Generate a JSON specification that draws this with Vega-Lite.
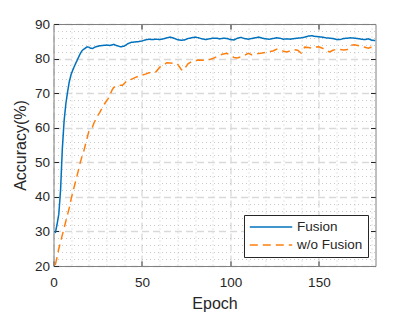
{
  "$schema": "https://vega.github.io/schema/vega-lite/v6.json",
  "width": 322,
  "height": 242,
  "autosize": {"type": "none"},
  "padding": {"left": 53.5, "top": 24, "right": 39.5, "bottom": 46},
  "background": "white",
  "config": {
    "font": "Liberation Sans",
    "view": {"stroke": null},
    "legend": {
      "orient": "none",
      "legendX": 190.5,
      "legendY": 191,
      "strokeColor": "#262626",
      "fillColor": "white",
      "padding": 5,
      "symbolType": "stroke",
      "symbolSize": 1800,
      "symbolStrokeWidth": 1.5,
      "clipHeight": 14,
      "labelFontSize": 13.5,
      "labelColor": "#262626",
      "labelOffset": 4,
      "rowPadding": 4,
      "symbolLimit": 10
    }
  },
  "data": {
    "values": [
      {"epoch": 1, "acc": 29.5, "series": "Fusion"},
      {"epoch": 2, "acc": 32, "series": "Fusion"},
      {"epoch": 3, "acc": 35, "series": "Fusion"},
      {"epoch": 4, "acc": 42, "series": "Fusion"},
      {"epoch": 5, "acc": 54, "series": "Fusion"},
      {"epoch": 6, "acc": 62, "series": "Fusion"},
      {"epoch": 7, "acc": 67, "series": "Fusion"},
      {"epoch": 8, "acc": 70.5, "series": "Fusion"},
      {"epoch": 9, "acc": 73.5, "series": "Fusion"},
      {"epoch": 10, "acc": 75.5, "series": "Fusion"},
      {"epoch": 11, "acc": 76.8, "series": "Fusion"},
      {"epoch": 12, "acc": 78, "series": "Fusion"},
      {"epoch": 13, "acc": 79.1, "series": "Fusion"},
      {"epoch": 14, "acc": 80.2, "series": "Fusion"},
      {"epoch": 15, "acc": 81.3, "series": "Fusion"},
      {"epoch": 16, "acc": 82.2, "series": "Fusion"},
      {"epoch": 17, "acc": 82.7, "series": "Fusion"},
      {"epoch": 18, "acc": 83, "series": "Fusion"},
      {"epoch": 19, "acc": 83.4, "series": "Fusion"},
      {"epoch": 20, "acc": 83.3, "series": "Fusion"},
      {"epoch": 21, "acc": 83, "series": "Fusion"},
      {"epoch": 22, "acc": 82.9, "series": "Fusion"},
      {"epoch": 23, "acc": 83.2, "series": "Fusion"},
      {"epoch": 24, "acc": 83.4, "series": "Fusion"},
      {"epoch": 26, "acc": 83.7, "series": "Fusion"},
      {"epoch": 28, "acc": 83.8, "series": "Fusion"},
      {"epoch": 30, "acc": 83.9, "series": "Fusion"},
      {"epoch": 32, "acc": 83.8, "series": "Fusion"},
      {"epoch": 34, "acc": 84.1, "series": "Fusion"},
      {"epoch": 36, "acc": 83.7, "series": "Fusion"},
      {"epoch": 38, "acc": 83.4, "series": "Fusion"},
      {"epoch": 40, "acc": 83.6, "series": "Fusion"},
      {"epoch": 42, "acc": 84.3, "series": "Fusion"},
      {"epoch": 44, "acc": 84.7, "series": "Fusion"},
      {"epoch": 46, "acc": 84.8, "series": "Fusion"},
      {"epoch": 48, "acc": 84.9, "series": "Fusion"},
      {"epoch": 50, "acc": 85.1, "series": "Fusion"},
      {"epoch": 52, "acc": 85.4, "series": "Fusion"},
      {"epoch": 54, "acc": 85.6, "series": "Fusion"},
      {"epoch": 56, "acc": 85.5, "series": "Fusion"},
      {"epoch": 58, "acc": 85.6, "series": "Fusion"},
      {"epoch": 60, "acc": 85.5, "series": "Fusion"},
      {"epoch": 62, "acc": 85.7, "series": "Fusion"},
      {"epoch": 64, "acc": 86, "series": "Fusion"},
      {"epoch": 66, "acc": 86.2, "series": "Fusion"},
      {"epoch": 68, "acc": 85.9, "series": "Fusion"},
      {"epoch": 70, "acc": 85.5, "series": "Fusion"},
      {"epoch": 72, "acc": 85.3, "series": "Fusion"},
      {"epoch": 74, "acc": 85.4, "series": "Fusion"},
      {"epoch": 76, "acc": 85.8, "series": "Fusion"},
      {"epoch": 78, "acc": 86, "series": "Fusion"},
      {"epoch": 80, "acc": 86.2, "series": "Fusion"},
      {"epoch": 82, "acc": 86, "series": "Fusion"},
      {"epoch": 84, "acc": 85.7, "series": "Fusion"},
      {"epoch": 86, "acc": 85.5, "series": "Fusion"},
      {"epoch": 88, "acc": 85.7, "series": "Fusion"},
      {"epoch": 90, "acc": 85.9, "series": "Fusion"},
      {"epoch": 92, "acc": 85.9, "series": "Fusion"},
      {"epoch": 94, "acc": 85.7, "series": "Fusion"},
      {"epoch": 96, "acc": 85.9, "series": "Fusion"},
      {"epoch": 98, "acc": 85.8, "series": "Fusion"},
      {"epoch": 100, "acc": 85.5, "series": "Fusion"},
      {"epoch": 102, "acc": 85.4, "series": "Fusion"},
      {"epoch": 104, "acc": 85.9, "series": "Fusion"},
      {"epoch": 106, "acc": 86.1, "series": "Fusion"},
      {"epoch": 108, "acc": 85.8, "series": "Fusion"},
      {"epoch": 110, "acc": 85.6, "series": "Fusion"},
      {"epoch": 112, "acc": 85.8, "series": "Fusion"},
      {"epoch": 114, "acc": 86, "series": "Fusion"},
      {"epoch": 116, "acc": 86.2, "series": "Fusion"},
      {"epoch": 118, "acc": 85.9, "series": "Fusion"},
      {"epoch": 120, "acc": 85.7, "series": "Fusion"},
      {"epoch": 122, "acc": 85.6, "series": "Fusion"},
      {"epoch": 124, "acc": 85.8, "series": "Fusion"},
      {"epoch": 126, "acc": 86, "series": "Fusion"},
      {"epoch": 128, "acc": 85.9, "series": "Fusion"},
      {"epoch": 130, "acc": 85.6, "series": "Fusion"},
      {"epoch": 132, "acc": 85.7, "series": "Fusion"},
      {"epoch": 134, "acc": 85.6, "series": "Fusion"},
      {"epoch": 136, "acc": 85.8, "series": "Fusion"},
      {"epoch": 138, "acc": 85.9, "series": "Fusion"},
      {"epoch": 140, "acc": 86, "series": "Fusion"},
      {"epoch": 142, "acc": 86.2, "series": "Fusion"},
      {"epoch": 144, "acc": 86.5, "series": "Fusion"},
      {"epoch": 146, "acc": 86.6, "series": "Fusion"},
      {"epoch": 148, "acc": 86.4, "series": "Fusion"},
      {"epoch": 150, "acc": 86.3, "series": "Fusion"},
      {"epoch": 152, "acc": 86.2, "series": "Fusion"},
      {"epoch": 154, "acc": 86, "series": "Fusion"},
      {"epoch": 156, "acc": 85.9, "series": "Fusion"},
      {"epoch": 158, "acc": 85.8, "series": "Fusion"},
      {"epoch": 160, "acc": 85.5, "series": "Fusion"},
      {"epoch": 162, "acc": 85.5, "series": "Fusion"},
      {"epoch": 164, "acc": 85.8, "series": "Fusion"},
      {"epoch": 166, "acc": 85.9, "series": "Fusion"},
      {"epoch": 168, "acc": 86, "series": "Fusion"},
      {"epoch": 170, "acc": 85.9, "series": "Fusion"},
      {"epoch": 172, "acc": 85.8, "series": "Fusion"},
      {"epoch": 174, "acc": 85.6, "series": "Fusion"},
      {"epoch": 176, "acc": 85.5, "series": "Fusion"},
      {"epoch": 178, "acc": 85.7, "series": "Fusion"},
      {"epoch": 180, "acc": 85.3, "series": "Fusion"},
      {"epoch": 182, "acc": 85.2, "series": "Fusion"},
      {"epoch": 1, "acc": 20.3, "series": "w/o Fusion"},
      {"epoch": 2, "acc": 22.5, "series": "w/o Fusion"},
      {"epoch": 3, "acc": 25, "series": "w/o Fusion"},
      {"epoch": 4, "acc": 27, "series": "w/o Fusion"},
      {"epoch": 5, "acc": 29, "series": "w/o Fusion"},
      {"epoch": 6, "acc": 31, "series": "w/o Fusion"},
      {"epoch": 7, "acc": 33, "series": "w/o Fusion"},
      {"epoch": 8, "acc": 35, "series": "w/o Fusion"},
      {"epoch": 9, "acc": 37, "series": "w/o Fusion"},
      {"epoch": 10, "acc": 39.5, "series": "w/o Fusion"},
      {"epoch": 11, "acc": 41.5, "series": "w/o Fusion"},
      {"epoch": 12, "acc": 43.5, "series": "w/o Fusion"},
      {"epoch": 13, "acc": 45.5, "series": "w/o Fusion"},
      {"epoch": 14, "acc": 47.5, "series": "w/o Fusion"},
      {"epoch": 15, "acc": 49.7, "series": "w/o Fusion"},
      {"epoch": 16, "acc": 51.5, "series": "w/o Fusion"},
      {"epoch": 17, "acc": 53, "series": "w/o Fusion"},
      {"epoch": 18, "acc": 55, "series": "w/o Fusion"},
      {"epoch": 19, "acc": 57, "series": "w/o Fusion"},
      {"epoch": 20, "acc": 59, "series": "w/o Fusion"},
      {"epoch": 21, "acc": 59.7, "series": "w/o Fusion"},
      {"epoch": 22, "acc": 60.2, "series": "w/o Fusion"},
      {"epoch": 23, "acc": 61.5, "series": "w/o Fusion"},
      {"epoch": 24, "acc": 62.5, "series": "w/o Fusion"},
      {"epoch": 25, "acc": 63.5, "series": "w/o Fusion"},
      {"epoch": 26, "acc": 64.3, "series": "w/o Fusion"},
      {"epoch": 27, "acc": 65.2, "series": "w/o Fusion"},
      {"epoch": 28, "acc": 66.2, "series": "w/o Fusion"},
      {"epoch": 29, "acc": 67, "series": "w/o Fusion"},
      {"epoch": 30, "acc": 67.8, "series": "w/o Fusion"},
      {"epoch": 31, "acc": 68.5, "series": "w/o Fusion"},
      {"epoch": 32, "acc": 69.6, "series": "w/o Fusion"},
      {"epoch": 33, "acc": 70.8, "series": "w/o Fusion"},
      {"epoch": 34, "acc": 71.6, "series": "w/o Fusion"},
      {"epoch": 35, "acc": 72, "series": "w/o Fusion"},
      {"epoch": 36, "acc": 72, "series": "w/o Fusion"},
      {"epoch": 37, "acc": 72.2, "series": "w/o Fusion"},
      {"epoch": 38, "acc": 72.3, "series": "w/o Fusion"},
      {"epoch": 39, "acc": 72.3, "series": "w/o Fusion"},
      {"epoch": 40, "acc": 72.8, "series": "w/o Fusion"},
      {"epoch": 41, "acc": 73.3, "series": "w/o Fusion"},
      {"epoch": 42, "acc": 73.8, "series": "w/o Fusion"},
      {"epoch": 43, "acc": 73.8, "series": "w/o Fusion"},
      {"epoch": 44, "acc": 74, "series": "w/o Fusion"},
      {"epoch": 46, "acc": 74.5, "series": "w/o Fusion"},
      {"epoch": 48, "acc": 74.9, "series": "w/o Fusion"},
      {"epoch": 50, "acc": 75.2, "series": "w/o Fusion"},
      {"epoch": 52, "acc": 75.5, "series": "w/o Fusion"},
      {"epoch": 54, "acc": 75.9, "series": "w/o Fusion"},
      {"epoch": 56, "acc": 76, "series": "w/o Fusion"},
      {"epoch": 58, "acc": 76.2, "series": "w/o Fusion"},
      {"epoch": 60, "acc": 77.5, "series": "w/o Fusion"},
      {"epoch": 62, "acc": 78, "series": "w/o Fusion"},
      {"epoch": 64, "acc": 78.8, "series": "w/o Fusion"},
      {"epoch": 66, "acc": 78.7, "series": "w/o Fusion"},
      {"epoch": 68, "acc": 78.6, "series": "w/o Fusion"},
      {"epoch": 70, "acc": 78.5, "series": "w/o Fusion"},
      {"epoch": 72, "acc": 77, "series": "w/o Fusion"},
      {"epoch": 73, "acc": 76.5, "series": "w/o Fusion"},
      {"epoch": 74, "acc": 77, "series": "w/o Fusion"},
      {"epoch": 76, "acc": 78.5, "series": "w/o Fusion"},
      {"epoch": 78, "acc": 79.1, "series": "w/o Fusion"},
      {"epoch": 80, "acc": 79.4, "series": "w/o Fusion"},
      {"epoch": 82, "acc": 79.6, "series": "w/o Fusion"},
      {"epoch": 84, "acc": 79.5, "series": "w/o Fusion"},
      {"epoch": 86, "acc": 79.5, "series": "w/o Fusion"},
      {"epoch": 88, "acc": 79.7, "series": "w/o Fusion"},
      {"epoch": 90, "acc": 80, "series": "w/o Fusion"},
      {"epoch": 92, "acc": 80.5, "series": "w/o Fusion"},
      {"epoch": 94, "acc": 81, "series": "w/o Fusion"},
      {"epoch": 96, "acc": 81.3, "series": "w/o Fusion"},
      {"epoch": 98, "acc": 81.5, "series": "w/o Fusion"},
      {"epoch": 100, "acc": 81, "series": "w/o Fusion"},
      {"epoch": 102, "acc": 80.3, "series": "w/o Fusion"},
      {"epoch": 104, "acc": 80.2, "series": "w/o Fusion"},
      {"epoch": 106, "acc": 80.5, "series": "w/o Fusion"},
      {"epoch": 108, "acc": 80.9, "series": "w/o Fusion"},
      {"epoch": 110, "acc": 81.5, "series": "w/o Fusion"},
      {"epoch": 112, "acc": 81.1, "series": "w/o Fusion"},
      {"epoch": 114, "acc": 81.2, "series": "w/o Fusion"},
      {"epoch": 116, "acc": 81.5, "series": "w/o Fusion"},
      {"epoch": 118, "acc": 81.6, "series": "w/o Fusion"},
      {"epoch": 120, "acc": 81.8, "series": "w/o Fusion"},
      {"epoch": 122, "acc": 82, "series": "w/o Fusion"},
      {"epoch": 124, "acc": 82.2, "series": "w/o Fusion"},
      {"epoch": 126, "acc": 82.7, "series": "w/o Fusion"},
      {"epoch": 128, "acc": 82.6, "series": "w/o Fusion"},
      {"epoch": 130, "acc": 82.1, "series": "w/o Fusion"},
      {"epoch": 132, "acc": 81.9, "series": "w/o Fusion"},
      {"epoch": 134, "acc": 82.3, "series": "w/o Fusion"},
      {"epoch": 136, "acc": 82.6, "series": "w/o Fusion"},
      {"epoch": 138, "acc": 82.4, "series": "w/o Fusion"},
      {"epoch": 140, "acc": 81.6, "series": "w/o Fusion"},
      {"epoch": 142, "acc": 83.3, "series": "w/o Fusion"},
      {"epoch": 144, "acc": 83.2, "series": "w/o Fusion"},
      {"epoch": 146, "acc": 83, "series": "w/o Fusion"},
      {"epoch": 148, "acc": 83.3, "series": "w/o Fusion"},
      {"epoch": 150, "acc": 83.4, "series": "w/o Fusion"},
      {"epoch": 152, "acc": 83, "series": "w/o Fusion"},
      {"epoch": 154, "acc": 82.4, "series": "w/o Fusion"},
      {"epoch": 156, "acc": 81.9, "series": "w/o Fusion"},
      {"epoch": 158, "acc": 82.4, "series": "w/o Fusion"},
      {"epoch": 160, "acc": 82.7, "series": "w/o Fusion"},
      {"epoch": 162, "acc": 82.6, "series": "w/o Fusion"},
      {"epoch": 164, "acc": 82.5, "series": "w/o Fusion"},
      {"epoch": 166, "acc": 82.6, "series": "w/o Fusion"},
      {"epoch": 168, "acc": 83.8, "series": "w/o Fusion"},
      {"epoch": 170, "acc": 84, "series": "w/o Fusion"},
      {"epoch": 172, "acc": 83.8, "series": "w/o Fusion"},
      {"epoch": 174, "acc": 83.5, "series": "w/o Fusion"},
      {"epoch": 176, "acc": 83.3, "series": "w/o Fusion"},
      {"epoch": 178, "acc": 83, "series": "w/o Fusion"},
      {"epoch": 180, "acc": 83.4, "series": "w/o Fusion"},
      {"epoch": 182, "acc": 83, "series": "w/o Fusion"}
    ]
  },
  "resolve": {"axis": {"x": "independent", "y": "independent"}},
  "layer": [
    {
      "transform": [{"filter": "datum.series === 'Fusion'"}],
      "mark": {"type": "line", "strokeWidth": 1.5, "clip": true},
      "encoding": {
        "x": {
          "field": "epoch", "type": "quantitative",
          "scale": {"domain": [0, 182], "nice": false, "zero": false},
          "axis": {
            "orient": "bottom",
            "values": [0, 10, 20, 30, 40, 50, 60, 70, 80, 90, 100, 110, 120, 130, 140, 150, 160, 170, 180],
            "labelExpr": "datum.value % 50 === 0 ? datum.label : ''",
            "labelOverlap": false,
            "labelFlush": false,
            "labelFontSize": 13.5,
            "labelColor": "#262626",
            "labelPadding": 14,
            "tickSize": -5,
            "tickColor": "#262626",
            "tickOpacity": {"condition": {"test": "datum.value % 50 === 0", "value": 1}, "value": 0},
            "domainColor": "#808080",
            "domainWidth": 1,
            "grid": true,
            "gridColor": {"condition": {"test": "datum.value % 50 === 0", "value": "#d9d9d9"}, "value": "#bdbdbd"},
            "gridDash": {"condition": {"test": "datum.value % 50 === 0", "value": [7, 4]}, "value": [1, 3]},
            "gridWidth": {"condition": {"test": "datum.value % 50 === 0", "value": 1.3}, "value": 0.8},
            "title": "Epoch",
            "titleFontSize": 16,
            "titleFontWeight": "normal",
            "titleColor": "#262626",
            "titlePadding": 7
          }
        },
        "y": {
          "field": "acc", "type": "quantitative",
          "scale": {"domain": [20, 90], "nice": false, "zero": false},
          "axis": {
            "orient": "left",
            "values": [20, 22, 24, 26, 28, 30, 32, 34, 36, 38, 40, 42, 44, 46, 48, 50, 52, 54, 56, 58, 60, 62, 64, 66, 68, 70, 72, 74, 76, 78, 80, 82, 84, 86, 88, 90],
            "labelExpr": "datum.value % 10 === 0 ? datum.label : ''",
            "labelOverlap": false,
            "labelFlush": false,
            "labelFontSize": 13.5,
            "labelColor": "#262626",
            "labelPadding": 9,
            "tickSize": -5,
            "tickColor": "#262626",
            "tickOpacity": {"condition": {"test": "datum.value % 10 === 0", "value": 1}, "value": 0},
            "domainColor": "#808080",
            "domainWidth": 1,
            "grid": true,
            "gridColor": {"condition": {"test": "datum.value % 10 === 0", "value": "#d9d9d9"}, "value": "#bdbdbd"},
            "gridDash": {"condition": {"test": "datum.value % 10 === 0", "value": [7, 4]}, "value": [1, 3]},
            "gridWidth": {"condition": {"test": "datum.value % 10 === 0", "value": 1.3}, "value": 0.8},
            "title": "Accuracy(%)",
            "titleFontSize": 16,
            "titleFontWeight": "normal",
            "titleColor": "#262626",
            "titlePadding": 6
          }
        },
        "color": {
          "field": "series", "type": "nominal",
          "scale": {"domain": ["Fusion", "w/o Fusion"], "range": ["#0072BD", "#FF7F0E"]},
          "legend": {"title": null}
        },
        "strokeDash": {
          "field": "series", "type": "nominal",
          "scale": {"domain": ["Fusion", "w/o Fusion"], "range": [[1, 0], [8, 5]]},
          "legend": {"title": null}
        }
      }
    },
    {
      "transform": [{"filter": "datum.series === 'w/o Fusion'"}],
      "mark": {"type": "line", "strokeWidth": 1.5, "clip": true},
      "encoding": {
        "x": {
          "field": "epoch", "type": "quantitative",
          "axis": {
            "orient": "top",
            "values": [50, 100, 150],
            "labels": false,
            "grid": false,
            "tickSize": -5,
            "tickColor": "#262626",
            "domainColor": "#808080",
            "title": null
          }
        },
        "y": {
          "field": "acc", "type": "quantitative",
          "axis": {
            "orient": "right",
            "values": [30, 40, 50, 60, 70, 80],
            "labels": false,
            "grid": false,
            "tickSize": -5,
            "tickColor": "#262626",
            "domainColor": "#808080",
            "title": null
          }
        },
        "color": {"field": "series", "type": "nominal", "legend": {"title": null}},
        "strokeDash": {"field": "series", "type": "nominal", "legend": {"title": null}}
      }
    }
  ]
}
